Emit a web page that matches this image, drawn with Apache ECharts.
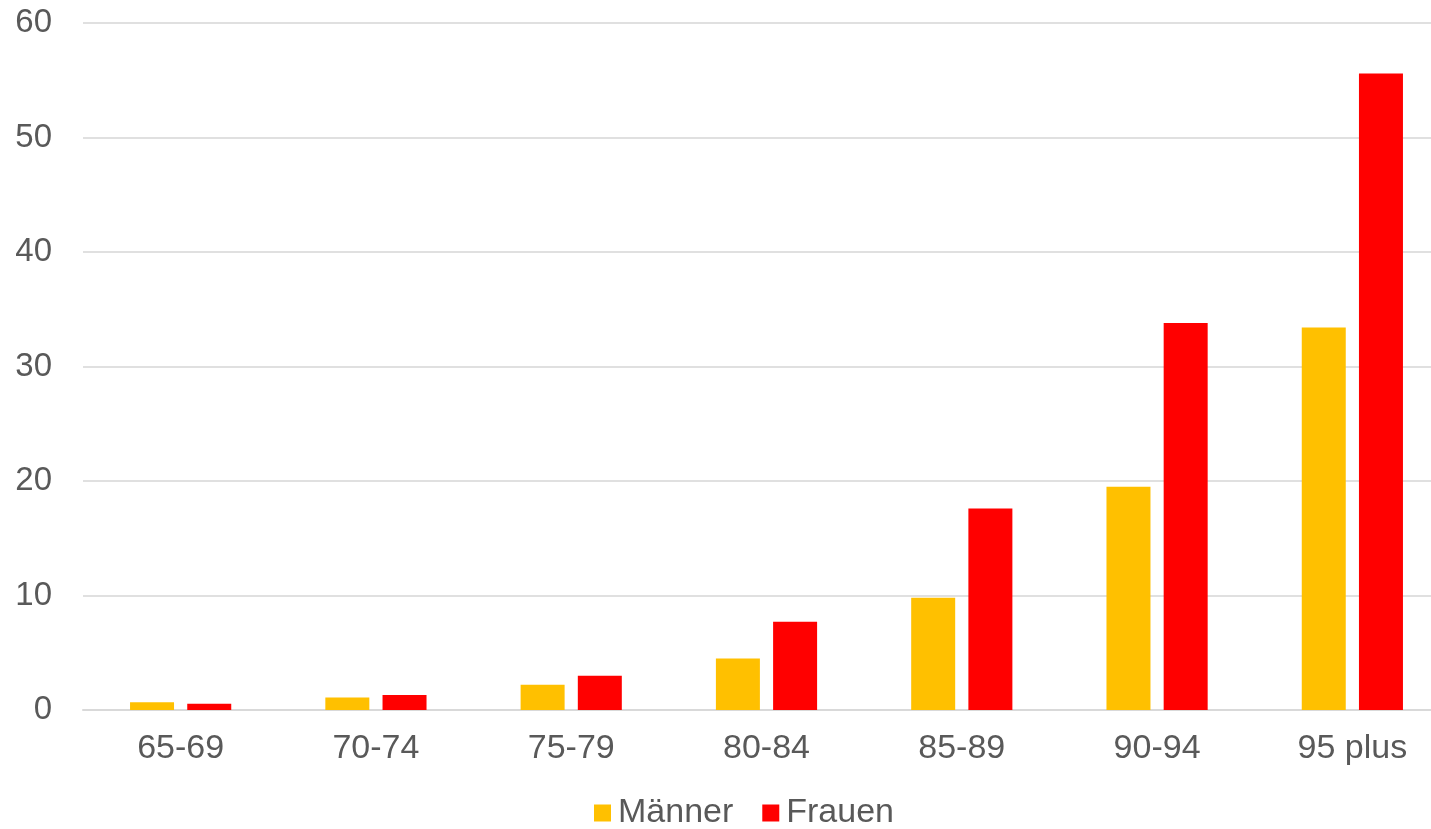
<!DOCTYPE html>
<html>
<head>
<meta charset="utf-8">
<script src="https://cdn.jsdelivr.net/npm/echarts@6/dist/echarts.min.js"></script>
<style>
  html, body { margin: 0; padding: 0; background: #fff; overflow: hidden; }
  /* Plotbereich läuft rechts über den Bildrand hinaus wie im Original */
  #chart { width: 1450px; height: 829px; }
</style>
</head>
<body>
<div id="chart"></div>
<script>
// Altersgruppen und Werte je Geschlecht
const categories = ["65-69", "70-74", "75-79", "80-84", "85-89", "90-94", "95 plus"];
const maenner = [0.67, 1.1, 2.2, 4.5, 9.8, 19.5, 33.4];
const frauen = [0.55, 1.3, 3.0, 7.7, 17.6, 33.8, 55.6];
const yTicks = { min: 0, max: 60, interval: 10 };

const TEXT = "#595959";
const FONT = "'Liberation Sans', Arial, sans-serif";

const chart = echarts.init(document.getElementById("chart"));
chart.setOption({
  animation: false,
  backgroundColor: "#fff",
  textStyle: { fontFamily: FONT },
  grid: { left: 83, top: 23, width: 1367, bottom: 119, containLabel: false },
  legend: {
    bottom: -6, left: 589,
    itemWidth: 17, itemHeight: 17, itemGap: 29,
    icon: "rect",
    textStyle: { color: TEXT, fontSize: 34, fontFamily: FONT, padding: [0, 0, 0, 2] },
    data: ["Männer", "Frauen"],
  },
  xAxis: {
    type: "category", data: categories,
    axisLine: { lineStyle: { color: "#d9d9d9", width: 2 } },
    axisTick: { show: false },
    axisLabel: { color: TEXT, fontSize: 34, margin: 22, fontFamily: FONT },
  },
  yAxis: {
    type: "value", min: yTicks.min, max: yTicks.max, interval: yTicks.interval,
    axisLine: { show: false },
    axisTick: { show: false },
    axisLabel: { color: TEXT, fontSize: 33, margin: 31, fontFamily: FONT },
    splitLine: { lineStyle: { color: "#e0e0e0", width: 2 } },
  },
  series: [
    { name: "Männer", type: "bar", data: maenner, barWidth: 44, barGap: "30%",
      itemStyle: { color: "#ffc000" } },
    { name: "Frauen", type: "bar", data: frauen, barWidth: 44,
      itemStyle: { color: "#ff0000" } },
  ],
});
</script>
</body>
</html>
